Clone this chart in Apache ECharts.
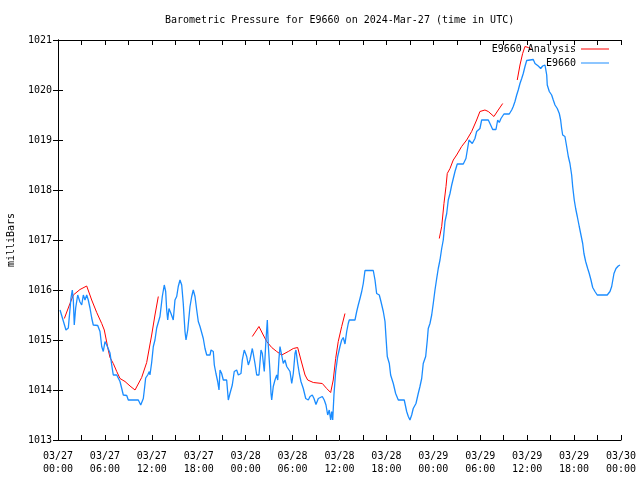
<!DOCTYPE html>
<html>
<head>
<meta charset="utf-8">
<script src="https://cdn.jsdelivr.net/npm/echarts@6/dist/echarts.min.js"></script>
<style>html,body{margin:0;padding:0;background:#fff}#chart{width:640px;height:480px}</style>
</head>
<body>
<div id="chart"></div>
<script>
// Hours since 2024-03-27 00:00 UTC
var obsHours = [0.26,1.02,1.32,1.66,1.83,1.96,2.08,2.26,2.52,2.81,3.03,3.24,3.45,3.67,3.87,4.09,4.31,4.51,5.08,5.37,5.59,5.79,6.01,6.23,6.43,6.65,6.87,7.07,7.51,7.93,8.15,8.35,8.79,8.99,10.27,10.58,10.91,11.04,11.21,11.47,11.68,11.76,11.98,12.19,12.40,12.62,13.04,13.34,13.59,13.77,13.90,14.03,14.19,14.45,14.74,14.96,15.18,15.38,15.60,15.82,16.02,16.24,16.37,16.59,16.88,17.10,17.30,17.52,17.74,17.94,18.16,18.58,18.80,19.02,19.44,19.57,19.86,19.99,20.20,20.42,20.59,20.72,20.93,21.14,21.57,21.78,21.99,22.29,22.54,22.85,23.06,23.40,23.57,23.82,24.13,24.34,24.55,24.85,24.97,25.19,25.41,25.70,25.96,26.13,26.38,26.56,26.77,26.89,27.11,27.24,27.33,27.53,27.75,27.97,28.10,28.26,28.39,28.61,28.81,29.03,29.25,29.45,29.67,29.89,30.09,30.31,30.43,30.65,30.86,31.07,31.37,31.68,32.01,32.23,32.52,32.74,32.99,33.29,33.50,33.80,34.05,34.27,34.49,34.69,34.87,35.00,35.13,35.29,35.51,35.77,36.06,36.28,36.48,36.70,36.92,37.12,37.25,37.98,38.20,38.40,38.62,38.84,39.04,39.26,40.32,40.54,40.75,41.09,41.30,41.60,41.82,41.94,42.11,42.37,42.54,42.88,43.18,43.52,44.28,44.59,44.80,45.01,45.23,45.43,45.78,46.07,46.29,46.51,46.71,47.02,47.23,47.35,47.57,47.79,47.99,48.21,48.43,48.63,48.85,49.07,49.27,49.49,49.71,49.91,50.13,50.35,50.55,50.77,51.06,51.83,52.17,52.39,52.56,52.77,52.98,53.32,53.54,53.75,53.96,54.18,55.03,55.33,55.59,56.01,56.23,56.43,56.65,57.03,57.71,58.02,58.22,58.44,58.66,58.86,59.08,59.30,59.50,59.72,59.94,60.14,60.78,61.00,61.42,61.73,61.98,62.28,62.50,62.57,62.83,63.13,63.34,63.56,63.85,64.11,64.28,64.41,64.54,64.83,65.05,65.26,65.47,65.69,65.82,66.02,66.20,66.41,66.66,66.88,67.10,67.26,67.48,67.74,67.94,68.16,68.38,68.67,68.96,70.24,70.59,70.81,71.10,71.36,71.65,71.87];
var obsValues = [1015.6,1015.2,1015.24,1015.84,1016.0,1015.8,1015.3,1015.64,1015.9,1015.76,1015.7,1015.9,1015.8,1015.9,1015.8,1015.64,1015.44,1015.3,1015.29,1015.17,1014.87,1014.77,1014.97,1014.9,1014.93,1014.74,1014.5,1014.3,1014.3,1014.17,1014.03,1013.9,1013.89,1013.8,1013.8,1013.7,1013.83,1014.0,1014.24,1014.3,1014.37,1014.3,1014.55,1014.87,1015.0,1015.24,1015.47,1015.87,1016.1,1015.97,1015.6,1015.4,1015.63,1015.53,1015.4,1015.8,1015.87,1016.07,1016.2,1016.1,1015.73,1015.17,1015.0,1015.2,1015.67,1015.87,1016.0,1015.87,1015.6,1015.37,1015.27,1015.03,1014.83,1014.7,1014.7,1014.8,1014.77,1014.5,1014.33,1014.17,1014.0,1014.4,1014.33,1014.2,1014.2,1013.8,1013.93,1014.1,1014.37,1014.4,1014.3,1014.33,1014.6,1014.8,1014.67,1014.5,1014.6,1014.83,1014.73,1014.53,1014.3,1014.3,1014.8,1014.73,1014.37,1014.9,1015.4,1014.9,1014.37,1013.93,1013.8,1014.07,1014.2,1014.3,1014.2,1014.63,1014.87,1014.9,1014.53,1014.6,1014.47,1014.5,1014.37,1014.13,1014.33,1014.73,1014.8,1014.53,1014.33,1014.17,1014.03,1013.83,1013.8,1013.87,1013.9,1013.83,1013.71,1013.83,1013.8,1013.87,1013.8,1013.7,1013.5,1013.6,1013.4,1013.57,1013.4,1013.9,1014.37,1014.67,1014.87,1015.0,1015.05,1014.92,1015.17,1015.33,1015.4,1015.4,1015.57,1015.7,1015.83,1015.97,1016.13,1016.39,1016.39,1016.2,1015.93,1015.9,1015.77,1015.57,1015.37,1015.07,1014.67,1014.53,1014.3,1014.13,1013.93,1013.8,1013.8,1013.57,1013.47,1013.4,1013.5,1013.63,1013.73,1013.93,1014.07,1014.23,1014.53,1014.67,1015.0,1015.23,1015.33,1015.5,1015.73,1016.0,1016.23,1016.43,1016.6,1016.83,1017.0,1017.37,1017.53,1017.8,1017.93,1018.1,1018.13,1018.37,1018.52,1018.52,1018.63,1018.67,1019.0,1019.01,1018.93,1019.03,1019.17,1019.2,1019.23,1019.4,1019.4,1019.3,1019.21,1019.21,1019.4,1019.35,1019.43,1019.52,1019.52,1019.6,1019.67,1019.77,1019.9,1020.0,1020.13,1020.23,1020.33,1020.47,1020.59,1020.61,1020.61,1020.53,1020.48,1020.43,1020.48,1020.5,1020.3,1020.1,1019.97,1019.9,1019.8,1019.7,1019.63,1019.53,1019.4,1019.23,1019.1,1019.07,1018.87,1018.67,1018.53,1018.3,1018.07,1017.8,1017.63,1017.47,1017.27,1017.1,1016.93,1016.73,1016.57,1016.43,1016.33,1016.2,1016.05,1015.97,1015.9,1015.9,1015.97,1016.07,1016.33,1016.43,1016.48,1016.5];

// Analysis segments, null marks a break between runs
var anaHours = [0.81,1.53,1.96,2.81,3.67,4.31,4.95,5.59,5.92,6.43,6.65,7.07,7.51,7.93,8.57,9.21,9.85,10.70,11.34,11.98,12.40,12.83,
  null,
  24.85,25.70,26.25,26.69,27.33,27.97,28.61,29.45,30.09,30.65,31.07,31.59,31.93,32.65,33.80,34.36,34.87,35.20,35.51,35.84,36.28,36.70,
  null,
  48.76,49.07,49.36,49.62,49.78,50.13,50.55,50.98,51.62,52.26,52.90,53.54,53.96,54.60,55.03,55.75,56.30,56.87,
  null,
  58.73,59.08,59.42,59.72,60.14,60.49];
var anaValues = [1015.43,1015.73,1015.9,1016.01,1016.08,1015.8,1015.55,1015.33,1015.2,1014.8,1014.65,1014.53,1014.37,1014.23,1014.17,1014.08,1014.0,1014.25,1014.55,1015.1,1015.5,1015.87,
  null,
  1015.07,1015.27,1015.1,1014.97,1014.85,1014.77,1014.7,1014.77,1014.83,1014.85,1014.6,1014.3,1014.2,1014.15,1014.13,1014.03,1013.95,1014.2,1014.63,1014.97,1015.27,1015.53,
  null,
  1017.03,1017.27,1017.73,1018.07,1018.33,1018.43,1018.6,1018.7,1018.87,1019.0,1019.17,1019.4,1019.57,1019.6,1019.57,1019.47,1019.6,1019.73,
  null,
  1020.2,1020.5,1020.73,1020.87,1020.85,1020.82];

var xTickLabels = ['03/27\n00:00','03/27\n06:00','03/27\n12:00','03/27\n18:00','03/28\n00:00','03/28\n06:00','03/28\n12:00','03/28\n18:00','03/29\n00:00','03/29\n06:00','03/29\n12:00','03/29\n18:00','03/30\n00:00'];

var obsData = obsHours.map(function (h, i) { return [h, obsValues[i]]; });
var anaData = anaHours.map(function (h, i) { return h === null ? ['-', '-'] : [h, anaValues[i]]; });

var font = 'DejaVu Sans Mono';
var chart = echarts.init(document.getElementById('chart'), null, {renderer: 'canvas'});
var axisLine = {show: true, lineStyle: {color: '#000', width: 1}};
var tick = {show: true, inside: true, length: 5, lineStyle: {color: '#000'}};
chart.setOption({
  animation: false,
  backgroundColor: '#fff',
  textStyle: {fontFamily: font},
  title: {
    text: 'Barometric Pressure for E9660 on 2024-Mar-27 (time in UTC)',
    left: 165, top: 15, padding: 0,
    textStyle: {fontFamily: font, fontSize: 10, fontWeight: 'normal', color: '#000'}
  },
  legend: [
    {data: ['E9660 Analysis'], right: 31, top: 44, padding: 0, itemWidth: 28, itemHeight: 10,
     icon: 'path://M0,0H28V1H0Z', textStyle: {fontFamily: font, fontSize: 10, color: '#000'}, align: 'right', selectedMode: false},
    {data: ['E9660'], right: 31, top: 58, padding: 0, itemWidth: 28, itemHeight: 10,
     icon: 'path://M0,0H28V1H0Z', textStyle: {fontFamily: font, fontSize: 10, color: '#000'}, align: 'right', selectedMode: false}
  ],
  grid: {left: 58, right: 19, top: 40, bottom: 40, containLabel: false, outerBoundsMode: 'none'},
  xAxis: [
    {type: 'value', min: 0, max: 72, interval: 3, position: 'bottom',
     axisLine: axisLine, axisTick: tick, splitLine: {show: false},
     axisLabel: {show: true, showMinLabel: true, showMaxLabel: true, margin: 10, color: '#000', fontFamily: font, fontSize: 10, lineHeight: 13,
       formatter: function (v) { return (v % 6 === 0) ? xTickLabels[v / 6] : ''; }}},
    {type: 'value', min: 0, max: 72, interval: 3, position: 'top',
     axisLine: axisLine, axisTick: tick, splitLine: {show: false}, axisLabel: {show: false}}
  ],
  yAxis: [
    {type: 'value', min: 1013, max: 1021, interval: 1, position: 'left',
     name: 'milliBars', nameLocation: 'middle', nameGap: 42, nameRotate: 90,
     nameTextStyle: {fontFamily: font, fontSize: 10, color: '#000'},
     axisLine: axisLine, axisTick: tick, splitLine: {show: false},
     axisLabel: {margin: 6, color: '#000', fontFamily: font, fontSize: 10,
       formatter: function (v) { return String(v); }}},
    {type: 'value', min: 1013, max: 1021, interval: 1, position: 'right',
     axisLine: axisLine, axisTick: tick, splitLine: {show: false}, axisLabel: {show: false}}
  ],
  series: [
    {name: 'E9660 Analysis', type: 'line', data: anaData, showSymbol: false, symbol: 'none', connectNulls: false,
     itemStyle: {color: '#ff0000'}, lineStyle: {color: '#ff0000', width: 1}, z: 2},
    {name: 'E9660', type: 'line', data: obsData, showSymbol: false, symbol: 'none',
     itemStyle: {color: '#1a8cff'}, lineStyle: {color: '#1a8cff', width: 1.3}, z: 3}
  ]
});
</script>
</body>
</html>
